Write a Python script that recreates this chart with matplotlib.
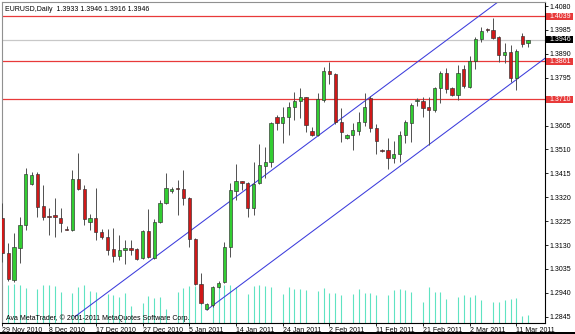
import numpy as np
import matplotlib
matplotlib.use("Agg")
import matplotlib.pyplot as plt
from matplotlib.patches import Rectangle

plt.rcParams['font.family'] = ['Liberation Sans', 'DejaVu Sans']

TITLE = "EURUSD,Daily  1.3933 1.3946 1.3916 1.3946"
COPYRIGHT = "Ava MetaTrader, \u00a9 2001-2011 MetaQuotes Software Corp."

# daily candles, 29 Nov 2010 .. 14 Mar 2011 (broker shows Sunday bars)
OPEN = [1.3237, 1.3098, 1.2991, 1.3118, 1.3209, 1.3372, 1.3412, 1.3285, 1.3245, 1.3249,
        1.3237, 1.3194, 1.3191, 1.3392, 1.3353, 1.3221, 1.3237, 1.3182, 1.3162, 1.3114,
        1.3086, 1.3110, 1.3118, 1.3114, 1.3078, 1.3186, 1.3078, 1.3221, 1.3297, 1.3345,
        1.3355, 1.3353, 1.3317, 1.3154, 1.2975, 1.2876, 1.2891, 1.2963, 1.2983, 1.3122,
        1.3345, 1.3384, 1.3376, 1.3277, 1.3376, 1.3444, 1.3460, 1.3639, 1.3615, 1.3639,
        1.3679, 1.3702, 1.3718, 1.3583, 1.3567, 1.3706, 1.3822, 1.3810, 1.3619, 1.3555,
        1.3567, 1.3583, 1.3619, 1.3714, 1.3595, 1.3508, 1.3508, 1.3476, 1.3492, 1.3567,
        1.3615, 1.3702, 1.3702, 1.3679, 1.3667, 1.3754, 1.3814, 1.3754, 1.3726, 1.3830,
        1.3758, 1.3861, 1.3949, 1.3987, 1.3985, 1.3957, 1.3885, 1.3897, 1.3794, 1.3961,
        1.3933]
HIGH = [1.3297, 1.3138, 1.3178, 1.3241, 1.3436, 1.3420, 1.3420, 1.3368, 1.3277, 1.3317,
        1.3277, 1.3205, 1.3428, 1.3496, 1.3368, 1.3253, 1.3357, 1.3194, 1.3194, 1.3198,
        1.3170, 1.3150, 1.3150, 1.3118, 1.3190, 1.3273, 1.3233, 1.3309, 1.3416, 1.3361,
        1.3388, 1.3428, 1.3320, 1.3157, 1.3019, 1.2899, 1.2966, 1.2987, 1.3142, 1.3376,
        1.3452, 1.3386, 1.3380, 1.3460, 1.3531, 1.3520, 1.3619, 1.3647, 1.3679, 1.3698,
        1.3738, 1.3754, 1.3720, 1.3599, 1.3734, 1.3838, 1.3857, 1.3812, 1.3675, 1.3571,
        1.3615, 1.3659, 1.3734, 1.3722, 1.3611, 1.3512, 1.3555, 1.3543, 1.3583, 1.3627,
        1.3694, 1.3714, 1.3718, 1.3718, 1.3758, 1.3822, 1.3834, 1.3758, 1.3845, 1.3845,
        1.3881, 1.3957, 1.3997, 1.3993, 1.4032, 1.3959, 1.3933, 1.3925, 1.3909, 1.3973,
        1.3946]
LOW = [1.3062, 1.2987, 1.2983, 1.3058, 1.3190, 1.3368, 1.3241, 1.3229, 1.3170, 1.3162,
       1.3182, 1.3188, 1.3186, 1.3349, 1.3209, 1.3190, 1.3150, 1.3154, 1.3090, 1.3062,
       1.3070, 1.3054, 1.3090, 1.3070, 1.3074, 1.3078, 1.3074, 1.3217, 1.3293, 1.3337,
       1.3249, 1.3289, 1.3122, 1.2971, 1.2895, 1.2872, 1.2884, 1.2959, 1.2979, 1.3082,
       1.3309, 1.3349, 1.3241, 1.3249, 1.3372, 1.3396, 1.3440, 1.3587, 1.3535, 1.3567,
       1.3627, 1.3635, 1.3579, 1.3563, 1.3563, 1.3698, 1.3770, 1.3611, 1.3539, 1.3553,
       1.3508, 1.3567, 1.3603, 1.3579, 1.3492, 1.3500, 1.3432, 1.3456, 1.3460, 1.3535,
       1.3539, 1.3682, 1.3639, 1.3527, 1.3659, 1.3694, 1.3734, 1.3722, 1.3706, 1.3754,
       1.3754, 1.3830, 1.3937, 1.3977, 1.3949, 1.3857, 1.3853, 1.3778, 1.3746, 1.3917,
       1.3916]
CLOSE = [1.3098, 1.2995, 1.3122, 1.3209, 1.3412, 1.3408, 1.3281, 1.3241, 1.3241, 1.3241,
         1.3217, 1.3191, 1.3392, 1.3353, 1.3233, 1.3237, 1.3182, 1.3162, 1.3110, 1.3086,
         1.3110, 1.3118, 1.3110, 1.3074, 1.3186, 1.3082, 1.3221, 1.3297, 1.3357, 1.3353,
         1.3353, 1.3317, 1.3154, 1.2975, 1.2899, 1.2895, 1.2963, 1.2979, 1.3122, 1.3349,
         1.3384, 1.3376, 1.3277, 1.3372, 1.3448, 1.3460, 1.3615, 1.3615, 1.3639, 1.3679,
         1.3702, 1.3718, 1.3607, 1.3567, 1.3710, 1.3822, 1.3810, 1.3619, 1.3579, 1.3567,
         1.3587, 1.3619, 1.3679, 1.3595, 1.3543, 1.3504, 1.3476, 1.3492, 1.3567, 1.3619,
         1.3686, 1.3706, 1.3675, 1.3667, 1.3754, 1.3814, 1.3750, 1.3726, 1.3814, 1.3762,
         1.3861, 1.3949, 1.3981, 1.3983, 1.3953, 1.3885, 1.3897, 1.3794, 1.3901, 1.3929,
         1.3946]
VOLUME = [38000, 38000, 39000, 38000, 35000, 0, 34000, 38000, 38000, 37000,
          31000, 0, 30000, 36000, 38000, 32000, 31000, 0, 29000, 28000,
          26000, 30000, 17000, 0, 20000, 27000, 25000, 26000, 14000, 0,
          31000, 35000, 37000, 37000, 34000, 0, 34000, 37000, 38000, 38000,
          36000, 0, 29000, 37000, 38000, 37000, 36000, 0, 29000, 36000,
          34000, 34000, 33000, 0, 32000, 35000, 30000, 30000, 28000, 0,
          29000, 34000, 30000, 30000, 28000, 0, 28000, 33000, 34000, 33000,
          31000, 0, 21000, 36000, 31000, 31000, 24000, 0, 26000, 28000,
          26000, 28000, 23000, 0, 21000, 21000, 23000, 24000, 25000, 7000,
          8000]

DATE_BARS = [0, 8, 16, 24, 32, 40, 48, 56, 64, 72, 80, 88]
DATE_LABELS = ["29 Nov 2010", "8 Dec 2010", "17 Dec 2010", "27 Dec 2010", "5 Jan 2011",
               "14 Jan 2011", "24 Jan 2011", "2 Feb 2011", "11 Feb 2011", "21 Feb 2011",
               "2 Mar 2011", "11 Mar 2011"]
PRICE_TICKS = [1.2845, 1.2940, 1.3035, 1.3130, 1.3225, 1.3320, 1.3415, 1.3510,
               1.3605, 1.3700, 1.3795, 1.3890, 1.3985, 1.4080]
LEVELS = [1.4039, 1.3861, 1.3710]
BID = 1.3946

# equidistant channel (bar index, price)
CHANNEL_LOWER = ([35, 93], [1.2872, 1.3874])
CHANNEL_UPPER = ([12.4, 86], [1.2845, 1.4116])

GREEN = '#32cd32'
RED = '#d01818'
LEVEL_RED = '#e83a3a'
BLUE = '#3c3cdc'
VOL_COLOR = '#5fe3c2'
FS = 5.0


def main():
    fig = plt.figure(figsize=(5.75, 3.34), dpi=100)
    fig.patch.set_facecolor('white')
    rect = [2 / 575, 11 / 334, 543 / 575, 321 / 334]

    vax = fig.add_axes(rect)
    ax = fig.add_axes(rect, sharex=vax)
    vax.set_zorder(0)
    ax.set_zorder(1)
    ax.patch.set_visible(False)

    x = np.arange(len(OPEN))
    o = np.array(OPEN)
    h = np.array(HIGH)
    l = np.array(LOW)
    c = np.array(CLOSE)

    # tick volume at the bottom
    vax.vlines(x, 0, VOLUME, color=VOL_COLOR, lw=0.8)
    vax.set_ylim(0, 321000)
    vax.axis('off')

    # levels and bid line
    for lv in LEVELS:
        ax.axhline(lv, color=LEVEL_RED, lw=0.9, zorder=1)
    ax.axhline(BID, color='#c8c8c8', lw=0.9, zorder=1)

    # channel
    ax.plot(*CHANNEL_LOWER, color=BLUE, lw=0.75, zorder=2)
    ax.plot(*CHANNEL_UPPER, color=BLUE, lw=0.75, zorder=2)

    # candles
    up = c >= o
    ax.vlines(x, l, h, color='#505050', lw=0.7, zorder=3)
    bottom = np.minimum(o, c)
    height = np.maximum(np.abs(c - o), 0.00008)
    colors = np.where(up, GREEN, RED)
    ax.bar(x, height, bottom=bottom, width=0.56, color=colors,
           edgecolor='#303030', linewidth=0.45, zorder=4)

    ax.set_xlim(-0.07, 92.9)
    ax.set_ylim(1.2820, 1.4096)

    # price scale on the right; a label box covers 1.3700 as in the terminal
    covered = [p for p in PRICE_TICKS if any(abs(p - lv) < 0.0025 for lv in LEVELS)]
    ax.yaxis.tick_right()
    ax.set_yticks(PRICE_TICKS)
    ax.set_yticklabels(["" if p in covered else f"{p:.4f}" for p in PRICE_TICKS])
    ax.tick_params(axis='y', length=2, width=0.6, pad=1, labelsize=FS, direction='out')

    ax.set_xticks(DATE_BARS)
    ax.set_xticklabels(DATE_LABELS, ha='left')
    ax.tick_params(axis='x', length=2, width=0.6, pad=0.8, labelsize=FS, direction='out')

    for side in ['left', 'top']:
        ax.spines[side].set_color('#909090')
        ax.spines[side].set_linewidth(0.8)
    for side in ['right', 'bottom']:
        ax.spines[side].set_color('black')
        ax.spines[side].set_linewidth(0.8)

    # labels for the levels and the bid price
    tr = ax.get_yaxis_transform()
    half = 0.0014
    for lv, fc in [(lv, LEVEL_RED) for lv in LEVELS] + [(BID, 'black')]:
        ax.add_patch(Rectangle((1.002, lv - half), 0.05, 2 * half, transform=tr,
                               clip_on=False, facecolor=fc, edgecolor='none', zorder=6))
        ax.text(1.0075, lv, f"{lv:.4f}", transform=tr, ha='left', va='center',
                color='white', fontsize=FS, zorder=7, clip_on=False)

    ax.text(0.0055, 0.988, TITLE, transform=ax.transAxes, ha='left', va='top',
            fontsize=FS, color='black')
    ax.text(0.0065, 0.016, COPYRIGHT, transform=ax.transAxes, ha='left', va='center',
            fontsize=FS, color='black', zorder=8)

    fig.add_artist(Rectangle((0, 0), 1, 2 / 334, transform=fig.transFigure,
                             facecolor='black', edgecolor='none'))

    fig.savefig('out.png', dpi=100)


if __name__ == '__main__':
    main()
